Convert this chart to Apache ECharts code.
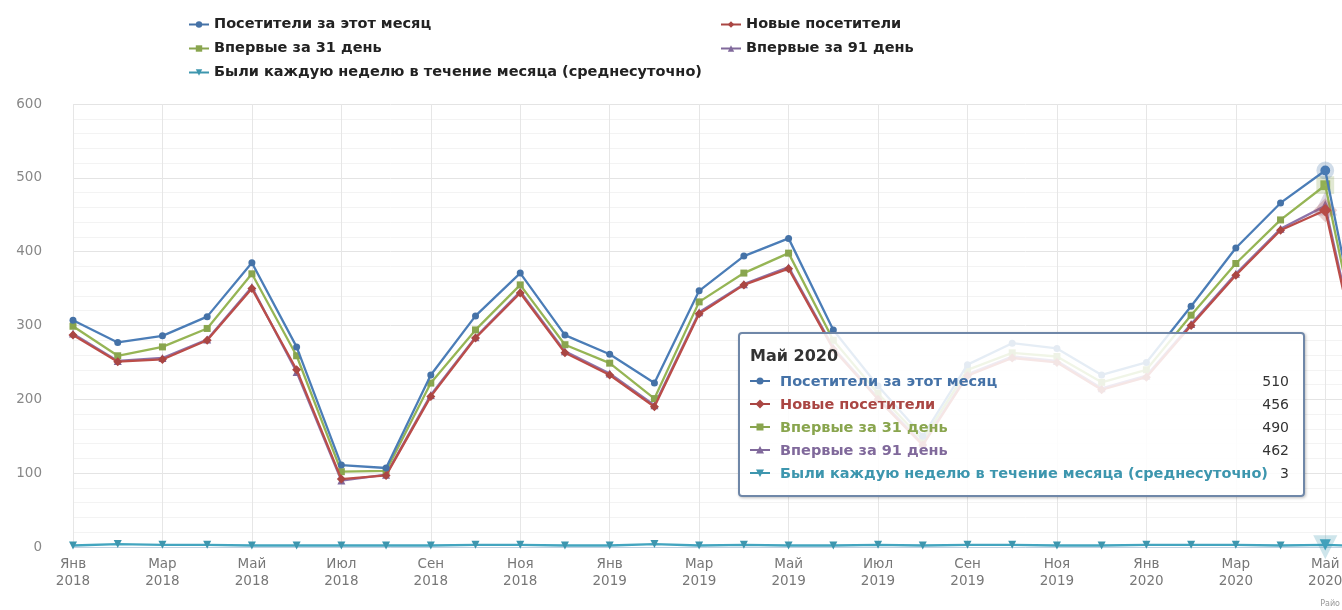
<!DOCTYPE html>
<html>
<head>
<meta charset="utf-8">
<script src="https://cdn.jsdelivr.net/npm/echarts@6/dist/echarts.min.js"></script>
<style>
html,body{margin:0;padding:0;background:#fff;}
#chart{width:1342px;height:610px;}
</style>
</head>
<body>
<div id="chart"></div>
<script>
var categories = [
 'Янв 2018','Фев 2018','Мар 2018','Апр 2018','Май 2018','Июн 2018','Июл 2018','Авг 2018','Сен 2018','Окт 2018','Ноя 2018','Дек 2018',
 'Янв 2019','Фев 2019','Мар 2019','Апр 2019','Май 2019','Июн 2019','Июл 2019','Авг 2019','Сен 2019','Окт 2019','Ноя 2019','Дек 2019',
 'Янв 2020','Фев 2020','Мар 2020','Апр 2020','Май 2020','Июн 2020'
];
var seriesNames = [
 'Посетители за этот месяц',
 'Новые посетители',
 'Впервые за 31 день',
 'Впервые за 91 день',
 'Были каждую неделю в течение месяца (среднесуточно)'
];
var visitors = [307,277,286,312,385,271,111,107,233,313,371,287, 261,222,347,394,418,294,218,150,247,276,269,233, 250,326,405,466,510,210];
var newVisitors = [287,251,254,280,350,240,92,97,204,283,344,263, 233,190,316,355,377,268,200,138,232,256,250,213, 230,300,368,429,456,185];
var first31 = [299,259,271,296,370,259,102,103,222,294,355,274, 249,201,332,371,398,280,208,145,240,263,258,223, 240,314,384,443,490,200];
var first91 = [289,252,256,281,352,237,90,98,206,284,346,265, 235,192,318,356,379,270,202,140,234,258,252,215, 232,302,370,431,462,190];
var weekly = [2,4,3,3,2,2,2,2,2,3,3,2, 2,4,2,3,2,2,3,2,3,3,2,2, 3,3,3,2,3,1];
var yTicks = [0,100,200,300,400,500,600];

var colors = ['#4572A7','#AA4643','#89A54E','#80699B','#3D96AE'];
var halos = ['rgba(69,114,167,0.25)','rgba(170,70,67,0.25)','rgba(137,165,78,0.25)','rgba(128,105,155,0.25)','rgba(61,150,174,0.25)'];
var tri = 'path://M0,0 L10,0 L5,10 Z';
var symbols = ['circle','diamond','rect','triangle',tri];
var sizes = [7,9,7,8,8];
var dataSets = [visitors,newVisitors,first31,first91,weekly];
var highlightIndex = categories.indexOf('Май 2020');

var chart = echarts.init(document.getElementById('chart'));

function svgSym(i){
  var c = colors[i], s;
  if(i===0) s='<circle cx="10" cy="6" r="3.5" fill="'+c+'"/>';
  else if(i===1) s='<path d="M10,1.5 L14.5,6 L10,10.5 L5.5,6 Z" fill="'+c+'"/>';
  else if(i===2) s='<rect x="6.5" y="2.5" width="7" height="7" fill="'+c+'"/>';
  else if(i===3) s='<path d="M10,2 L14,9.5 L6,9.5 Z" fill="'+c+'"/>';
  else s='<path d="M6,2.5 L14,2.5 L10,10 Z" fill="'+c+'"/>';
  return '<svg width="22" height="12" style="vertical-align:-1px;margin-right:8px"><line x1="0" y1="6" x2="20" y2="6" stroke="'+c+'" stroke-width="2"/>'+s+'</svg>';
}

var series = dataSets.map(function(d,i){
  return {
    name: seriesNames[i],
    type: 'line',
    data: d,
    symbol: symbols[i],
    symbolSize: sizes[i],
    showAllSymbol: true,
    lineStyle: {width: 2.3, color: colors[i]},
    itemStyle: {color: colors[i]},
    emphasis: {scale: 1.4, itemStyle: {borderColor: halos[i], borderWidth: 8}},
    z: 10 - i
  };
});

var legendText = {fontFamily:'DejaVu Sans', fontWeight:'bold', fontSize:14.5, color:'#222'};

chart.setOption({
  animation: false,
  color: colors,
  textStyle: {fontFamily: 'DejaVu Sans'},
  grid: {left: 73, top: 104, width: 1297, height: 443, containLabel: false, outerBoundsMode: 'none'},
  legend: [
    {data: [seriesNames[0], seriesNames[2], seriesNames[4]], orient:'vertical', left: 183, top: 12, itemGap: 9, itemWidth: 20, itemHeight: 8, textStyle: legendText},
    {data: [seriesNames[1], seriesNames[3]], orient:'vertical', left: 715, top: 12, itemGap: 9, itemWidth: 20, itemHeight: 8, textStyle: legendText}
  ],
  xAxis: {
    type: 'category',
    data: categories,
    boundaryGap: false,
    axisLine: {show: true, lineStyle: {color: '#C0D0E0'}},
    axisTick: {show: false},
    splitLine: {show: true, interval: 1, lineStyle: {color: '#e6e6e6'}},
    axisLabel: {
      interval: 1, color: '#777', fontSize: 13.5, lineHeight: 17, margin: 9,
      formatter: function(v){ var p = v.split(' '); return p[0] + '\n' + p[1]; }
    }
  },
  yAxis: {
    type: 'value', min: yTicks[0], max: yTicks[yTicks.length-1], interval: 100,
    axisLine: {show: false}, axisTick: {show: false},
    axisLabel: {color: '#888', fontSize: 13.5, margin: 31},
    splitLine: {lineStyle: {color: '#e4e4e4'}},
    minorTick: {show: false, splitNumber: 5},
    minorSplitLine: {show: true, lineStyle: {color: '#f3f3f3'}}
  },
  tooltip: {
    trigger: 'axis',
    triggerOn: 'none',
    alwaysShowContent: true,
    axisPointer: {type: 'none'},
    position: function(){ return [738, 332]; },
    backgroundColor: 'rgba(255,255,255,0.86)',
    borderColor: '#6f87a8',
    borderWidth: 2,
    padding: [11, 14, 10, 10],
    extraCssText: 'width:567px;height:165px;box-sizing:border-box;border-radius:4px;box-shadow:1px 1px 3px rgba(0,0,0,0.25);',
    formatter: function(params){
      var h = '<div style="font-family:DejaVu Sans;font-weight:bold;font-size:16px;color:#333;margin-bottom:4px;">' + params[0].name + '</div>';
      params.forEach(function(p){
        var i = p.seriesIndex;
        h += '<div style="display:flex;justify-content:space-between;height:23px;line-height:23px;font-family:DejaVu Sans;font-size:14.5px;">' +
             '<span style="color:' + colors[i] + ';font-weight:bold;">' + svgSym(i) + p.seriesName + '</span>' +
             '<span style="color:#333;font-size:14px;">' + p.value + '</span></div>';
      });
      return h;
    }
  },
  graphic: [{type:'text', right: 2, bottom: 2, style: {text: 'Райо', fontSize: 8, fill: '#999', fontFamily:'DejaVu Sans'}}],
  series: series
});

chart.dispatchAction({type: 'showTip', seriesIndex: 0, dataIndex: highlightIndex});
chart.dispatchAction({type: 'highlight', seriesIndex: [0,1,2,3,4], dataIndex: highlightIndex});
</script>
</body>
</html>
